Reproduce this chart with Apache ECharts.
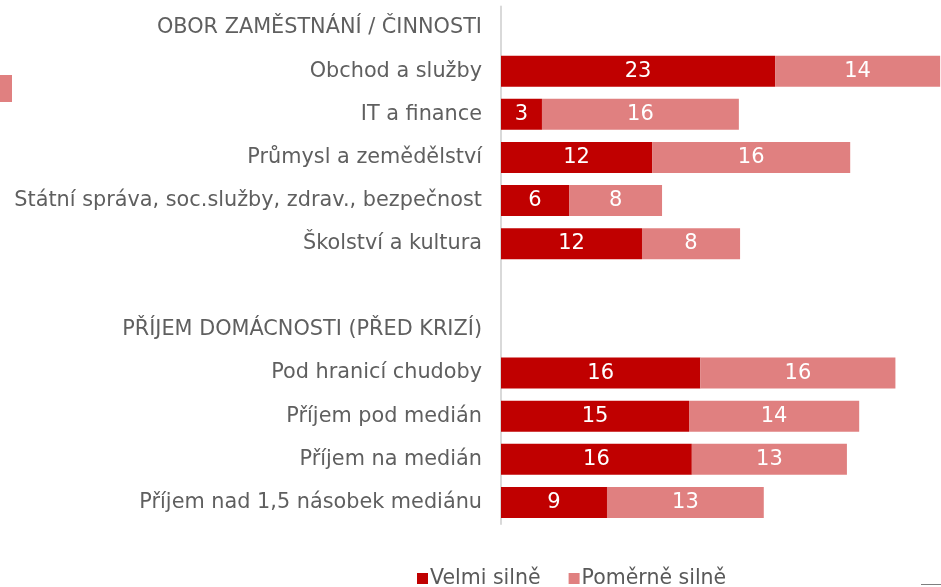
<!DOCTYPE html>
<html><head><meta charset="utf-8">
<script src="https://cdn.jsdelivr.net/npm/echarts@6/dist/echarts.min.js"></script>
<style>html,body{margin:0;padding:0;background:#fff}#c{width:941px;height:587px}</style>
</head><body><div id="c"></div>
<script>
const categories = [
  "OBOR ZAMĚSTNÁNÍ / ČINNOSTI",
  "Obchod a služby",
  "IT a finance",
  "Průmysl a zemědělství",
  "Státní správa, soc.služby, zdrav., bezpečnost",
  "Školství a kultura",
  "",
  "PŘÍJEM DOMÁCNOSTI (PŘED KRIZÍ)",
  "Pod hranicí chudoby",
  "Příjem pod medián",
  "Příjem na medián",
  "Příjem nad 1,5 násobek mediánu"
];
const velmiSilne = [null, 22.55, 3.37, 12.43, 5.6, 11.6, null, null, 16.4, 15.47, 15.7, 8.72];
const pomerneSilne = [null, 13.58, 16.2, 16.3, 7.65, 8.07, null, null, 16.05, 14.0, 12.76, 12.9];
const seriesNames = ["Velmi silně", "Poměrně silně"];

const FONT = "'DejaVu Sans', sans-serif";
const chart = echarts.init(document.getElementById('c'));
const lbl = {
  show: true, position: 'inside', color: '#fff', fontSize: 21, fontFamily: FONT,
  formatter: p => p.value == null ? '' : Math.round(p.value)
};
chart.setOption({
  animation: false,
  grid: { left: 501, right: 0, top: 6.5, bottom: 63, containLabel: false },
  legend: {
    data: seriesNames, left: 412, top: 563, itemWidth: 11, itemHeight: 11, itemGap: 28,
    icon: 'rect',
    textStyle: { color: '#595959', fontSize: 20.5, fontFamily: FONT, padding: [0, 0, 0, -3] }
  },
  xAxis: { type: 'value', min: 0, max: 36.2, show: false },
  yAxis: {
    type: 'category', data: categories, inverse: true,
    axisLine: { show: true, lineStyle: { color: '#d9d9d9', width: 2 } },
    axisTick: { show: false },
    axisLabel: { color: '#5f5f5f', fontSize: 20.8, fontFamily: FONT, margin: 19 }
  },
  series: [
    { name: seriesNames[0], type: 'bar', stack: 's', data: velmiSilne, barWidth: 31,
      itemStyle: { color: '#C00000' }, label: lbl },
    { name: seriesNames[1], type: 'bar', stack: 's', data: pomerneSilne, barWidth: 31,
      itemStyle: { color: '#E08080' }, label: lbl }
  ],
  graphic: [
    { type: 'rect', shape: { x: 0, y: 75, width: 12, height: 27 }, style: { fill: '#E08080' } },
    { type: 'line', shape: { x1: 921, y1: 584.5, x2: 941, y2: 584.5 }, style: { stroke: '#7f7f7f', lineWidth: 1 } }
  ]
});
</script></body></html>
